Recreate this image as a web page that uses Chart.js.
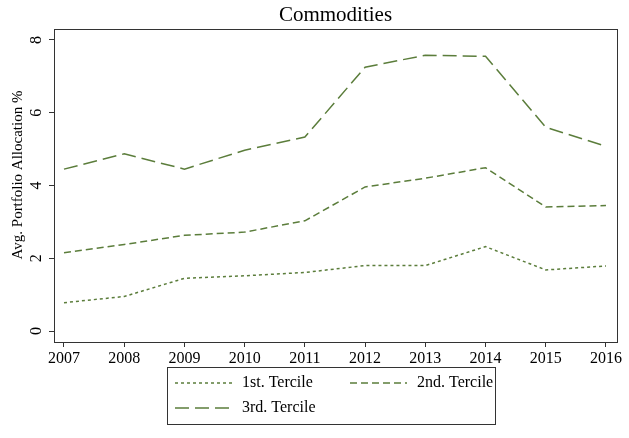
<!DOCTYPE html>
<html>
<head>
<meta charset="utf-8">
<script src="https://cdn.jsdelivr.net/npm/chart.js@4.4.0/dist/chart.umd.min.js"></script>
<style>
  body { margin: 0; background: #fff; }
  #wrap { position: relative; width: 629px; height: 438px; }
</style>
</head>
<body>
<div id="wrap"><canvas id="grafico" width="629" height="438"></canvas></div>
<script>
const years = [2007, 2008, 2009, 2010, 2011, 2012, 2013, 2014, 2015, 2016];
const tercile1 = [0.78, 0.95, 1.45, 1.52, 1.61, 1.80, 1.80, 2.32, 1.68, 1.79];
const tercile2 = [2.15, 2.38, 2.63, 2.72, 3.03, 3.96, 4.20, 4.49, 3.41, 3.45];
const tercile3 = [4.45, 4.87, 4.45, 4.97, 5.33, 7.25, 7.58, 7.55, 5.60, 5.08];
const seriesNames = ['1st. Tercile', '2nd. Tercile', '3rd. Tercile'];
const yTicks = [0, 2, 4, 6, 8];

const verde = '#5b7d3b';
const serif = "'Liberation Serif', 'Times New Roman', serif";

function puntos(vals) {
  return years.map((y, i) => ({ x: y, y: vals[i] }));
}

// titulo, marco, etiquetas del eje y y leyenda
const extras = {
  id: 'extras',
  afterDraw(chart) {
    const ctx = chart.ctx;
    const area = chart.chartArea;
    const ys = chart.scales.y;
    ctx.save();

    ctx.strokeStyle = '#333';
    ctx.lineWidth = 1;
    ctx.strokeRect(area.left + 0.5, area.top + 0.5, area.right - area.left, area.bottom - area.top);

    ctx.fillStyle = '#000';
    ctx.font = '21px ' + serif;
    ctx.textAlign = 'center';
    ctx.textBaseline = 'middle';
    ctx.fillText('Commodities', (area.left + area.right) / 2, 15);

    ctx.font = '16px ' + serif;
    yTicks.forEach(v => {
      ctx.save();
      ctx.translate(37, ys.getPixelForValue(v));
      ctx.rotate(-Math.PI / 2);
      ctx.fillText(String(v), 0, 0);
      ctx.restore();
    });

    ctx.save();
    ctx.font = '15px ' + serif;
    ctx.translate(18, 175);
    ctx.rotate(-Math.PI / 2);
    ctx.fillText('Avg. Portfolio Allocation %', 0, 0);
    ctx.restore();

    // leyenda
    const lx = 167, ly = 367, lw = 328, lh = 57;
    ctx.strokeStyle = '#333';
    ctx.lineWidth = 1;
    ctx.strokeRect(lx + 0.5, ly + 0.5, lw, lh);
    ctx.font = '16px ' + serif;
    const pos = [[175, 383], [350, 383], [175, 408]];
    chart.data.datasets.forEach((ds, i) => {
      const [px, py] = pos[i];
      ctx.strokeStyle = ds.borderColor;
      ctx.lineWidth = ds.borderWidth;
      ctx.setLineDash(ds.borderDash);
      ctx.beginPath();
      ctx.moveTo(px, py);
      ctx.lineTo(px + 57, py);
      ctx.stroke();
      ctx.setLineDash([]);
      ctx.fillStyle = '#000';
      ctx.textAlign = 'left';
      ctx.fillText(ds.label, px + 67, py);
    });
    ctx.restore();
  }
};

const dashes = [[3, 3], [7, 4], [14, 6]];
const datos = [tercile1, tercile2, tercile3];

new Chart(document.getElementById('grafico'), {
  type: 'line',
  data: {
    datasets: datos.map((d, i) => ({
      label: seriesNames[i],
      data: puntos(d),
      borderColor: verde,
      borderWidth: 1.5,
      borderDash: dashes[i],
      pointRadius: 0,
      fill: false,
      tension: 0
    }))
  },
  options: {
    responsive: false,
    animation: false,
    layout: { padding: { top: 29, right: 12, bottom: 66, left: 0 } },
    plugins: { legend: { display: false }, title: { display: false }, tooltip: { enabled: false } },
    scales: {
      x: {
        type: 'linear',
        min: 2006.834,
        max: 2016.183,
        afterBuildTicks: s => { s.ticks = years.map(v => ({ value: v })); },
        afterFit: s => { s.height = 30; },
        grid: { drawOnChartArea: false, drawTicks: true, tickLength: 5, color: '#333' },
        border: { color: '#333' },
        ticks: {
          color: '#000',
          padding: 2,
          maxRotation: 0,
          autoSkip: false,
          font: { family: serif, size: 16 },
          callback: v => String(v)
        }
      },
      y: {
        min: -0.30,
        max: 8.30,
        afterBuildTicks: s => { s.ticks = yTicks.map(v => ({ value: v })); },
        afterFit: s => { s.width = 54; },
        grid: { drawOnChartArea: false, drawTicks: true, tickLength: 5, color: '#333' },
        border: { color: '#333' },
        ticks: { display: false }
      }
    }
  },
  plugins: [extras]
});
</script>
</body>
</html>
